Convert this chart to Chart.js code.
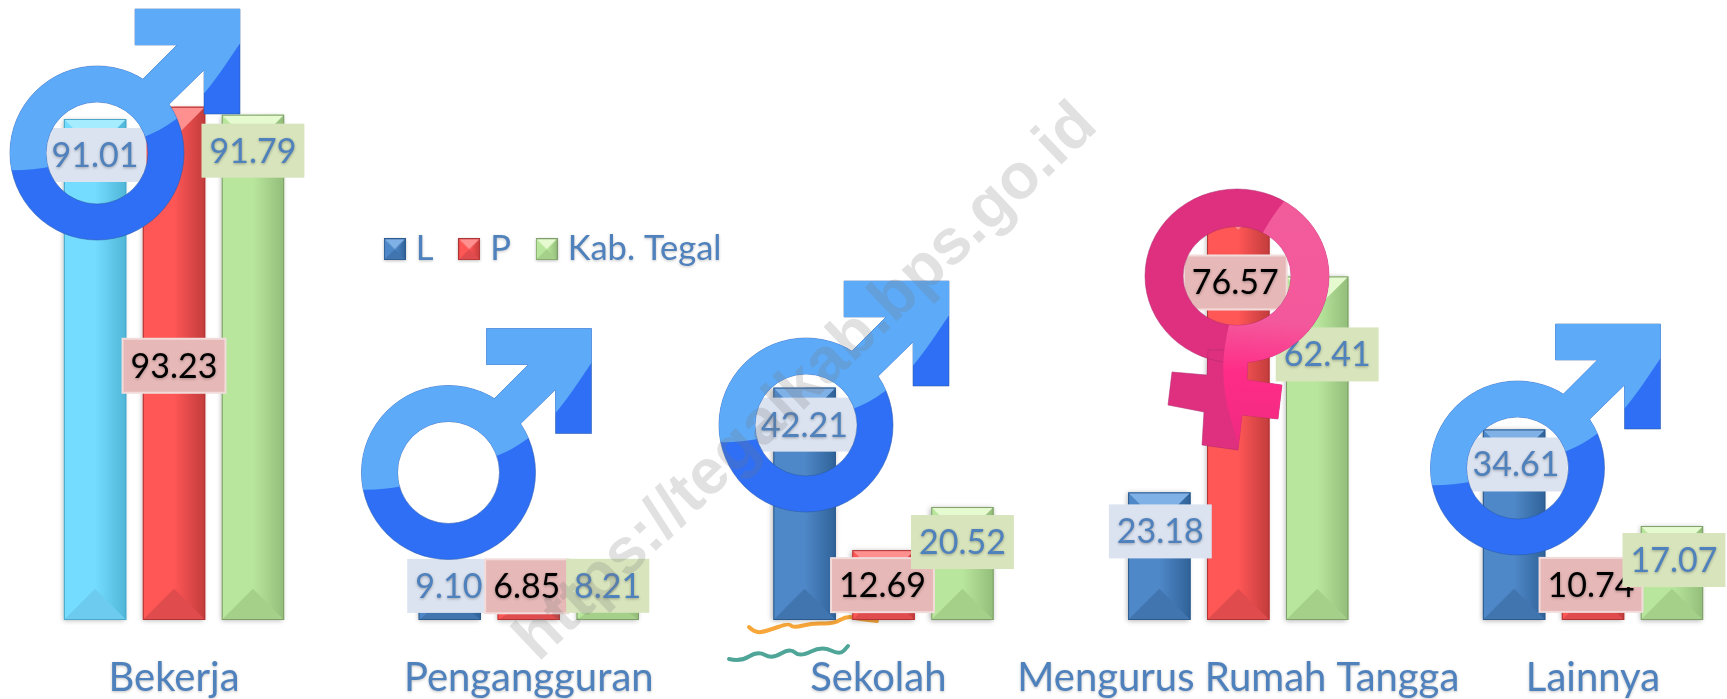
<!DOCTYPE html>
<html>
<head>
<meta charset="utf-8">
<style>
  html, body { margin: 0; padding: 0; background: #fff; overflow: hidden; }
  canvas { display: block; }
</style>
<script src="https://cdn.jsdelivr.net/npm/chart.js@4"></script>
</head>
<body>
<canvas id="chart" width="1727" height="699"></canvas>
<script>
const categories = ['Bekerja', 'Pengangguran', 'Sekolah', 'Mengurus Rumah Tangga', 'Lainnya'];
const seriesNames = ['L', 'P', 'Kab. Tegal'];
const valuesL = [91.01, 9.10, 42.21, 23.18, 34.61];
const valuesP = [93.23, 6.85, 12.69, 76.57, 10.74];
const valuesKab = [91.79, 8.21, 20.52, 62.41, 17.07];

// label box offset from the top centre of its bar
const offsetsL = [[0, 36], [-1, 16], [0, 37], [1, 39], [2, 35]];
const offsetsP = [[0, 259], [-2, 4], [-1, 35], [-3, 84], [-2, 24]];
const offsetsKab = [[0, 36], [0, 11], [0, 35], [10, 78], [2, 34]];

const FONT = 'Lato, "Open Sans", sans-serif';
const TEXT_BLUE = '#4f81bd';

const blueBar = { base: '#4f88c8', dark: '#2f6298', top: '#7fb0e6', bottom: '#4175b0', edge: '#2d5a8c' };
const cyanBar = { base: '#74dcff', dark: '#4fb6d8', top: '#a5ecff', bottom: '#6ccbee', edge: '#4aa8c8' };
const redBar = { base: '#ff5656', dark: '#c23c3c', top: '#ff9090', bottom: '#e04c4e', edge: '#b03434' };
const greenBar = { base: '#b9e69d', dark: '#93bd7a', top: '#e6fad0', bottom: '#a4d08a', edge: '#7f9f6a' };

const barStyles = [
  [cyanBar, blueBar, blueBar, blueBar, blueBar],
  [redBar, redBar, redBar, redBar, redBar],
  [greenBar, greenBar, greenBar, greenBar, greenBar]
];
const labelStyles = [
  { bg: '#dbe3f1', color: TEXT_BLUE, offsets: offsetsL },
  { bg: '#e6b8b7', color: '#000', offsets: offsetsP, border: '#f2dcdb' },
  { bg: '#d7e4bc', color: TEXT_BLUE, offsets: offsetsKab }
];

function smoothLine(ctx, pts) {
  ctx.moveTo(pts[0][0], pts[0][1]);
  for (let i = 1; i < pts.length - 1; i++) {
    const mx = (pts[i][0] + pts[i + 1][0]) / 2;
    const my = (pts[i][1] + pts[i + 1][1]) / 2;
    ctx.quadraticCurveTo(pts[i][0], pts[i][1], mx, my);
  }
  const last = pts[pts.length - 1];
  ctx.lineTo(last[0], last[1]);
}

function polygon(ctx, pts) {
  pts.forEach((p, i) => i ? ctx.lineTo(p[0], p[1]) : ctx.moveTo(p[0], p[1]));
  ctx.closePath();
}

function bevel(ctx, x, y, w, h, s) {
  const inset = Math.min(w / 2, h / 2);
  const cx = x + w / 2;
  ctx.save();
  ctx.shadowColor = 'transparent';
  const g = ctx.createLinearGradient(cx, 0, x + w, 0);
  g.addColorStop(0, s.base);
  g.addColorStop(1, s.dark);
  ctx.fillStyle = g;
  ctx.fillRect(cx, y, w / 2, h);
  ctx.fillStyle = s.top;
  ctx.beginPath();
  polygon(ctx, [[x, y], [x + w, y], [cx, y + inset]]);
  ctx.fill();
  ctx.fillStyle = s.bottom;
  ctx.beginPath();
  polygon(ctx, [[x, y + h], [x + w, y + h], [cx, y + h - inset]]);
  ctx.fill();
  ctx.strokeStyle = s.edge;
  ctx.lineWidth = 1;
  ctx.strokeRect(x + 0.5, y + 0.5, w - 1, h - 1);
  ctx.restore();
}

function makeSwatch(s) {
  const c = document.createElement('canvas');
  c.width = 22;
  c.height = 22;
  const ctx = c.getContext('2d');
  ctx.fillStyle = s.base;
  ctx.fillRect(0, 0, 22, 22);
  bevel(ctx, 0, 0, 22, 22, s);
  return c;
}
const swatches = [makeSwatch(blueBar), makeSwatch(redBar), makeSwatch(greenBar)];

function drawMale(ctx, cx, cy) {
  ctx.save();
  ctx.translate(cx, cy);
  const shape = new Path2D();
  shape.arc(0, 0, 87, 0, Math.PI * 2);
  shape.closePath();
  shape.moveTo(38, -144);
  [[143, -144], [143, -39], [107, -39], [107, -83], [61, -38], [36, -64], [80, -108], [38, -108]]
    .forEach(p => shape.lineTo(p[0], p[1]));
  shape.closePath();
  shape.moveTo(51, 0);
  shape.arc(0, 0, 51, 0, Math.PI * 2, true);
  shape.closePath();
  ctx.fillStyle = '#2e6ff5';
  ctx.fill(shape);
  ctx.strokeStyle = 'rgba(40,90,170,0.55)';
  ctx.lineWidth = 1;
  ctx.stroke(shape);
  ctx.clip(shape);
  ctx.fillStyle = '#5dabf8';
  ctx.beginPath();
  smoothLine(ctx, [[-92, 17], [-51, 19], [50, -16], [78, -32], [108, -58], [150, -120]]);
  ctx.lineTo(150, -160);
  ctx.lineTo(-92, -160);
  ctx.closePath();
  ctx.fill();
  ctx.restore();
}

function drawFemale(ctx) {
  ctx.save();
  const shape = new Path2D();
  shape.ellipse(1237, 276, 92, 87, 0, 0, Math.PI * 2);
  shape.closePath();
  shape.moveTo(1208, 350);
  [[1248, 350], [1247, 380], [1282, 385], [1278, 419], [1242, 415], [1238, 450], [1202, 445], [1204, 412], [1168, 405], [1172, 372], [1207, 375]]
    .forEach(p => shape.lineTo(p[0], p[1]));
  shape.closePath();
  shape.moveTo(1291, 276);
  shape.ellipse(1237, 276, 54, 49.5, 0, 0, Math.PI * 2, true);
  shape.closePath();
  ctx.fillStyle = '#df307f';
  ctx.fill(shape);
  ctx.strokeStyle = 'rgba(170,40,110,0.5)';
  ctx.lineWidth = 1;
  ctx.stroke(shape);
  ctx.clip(shape);
  const g = ctx.createLinearGradient(1260, 200, 1240, 440);
  g.addColorStop(0, '#f25c9b');
  g.addColorStop(0.5, '#f4589c');
  g.addColorStop(0.72, '#ff2c87');
  g.addColorStop(1, '#f02a80');
  ctx.fillStyle = g;
  ctx.beginPath();
  smoothLine(ctx, [[1290, 195], [1262, 224], [1225, 330], [1222, 390], [1240, 450]]);
  ctx.lineTo(1340, 450);
  ctx.lineTo(1340, 180);
  ctx.closePath();
  ctx.fill();
  ctx.restore();
}

function drawSquiggle(ctx, pts, color) {
  ctx.save();
  ctx.shadowColor = 'transparent';
  ctx.strokeStyle = color;
  ctx.lineWidth = 4;
  ctx.lineCap = 'round';
  ctx.lineJoin = 'round';
  ctx.beginPath();
  smoothLine(ctx, pts);
  ctx.stroke();
  ctx.restore();
}

function drawValueLabel(ctx, bar, value, style, offset) {
  const text = value.toFixed(2);
  ctx.save();
  ctx.font = '34px ' + FONT;
  const boxW = ctx.measureText(text).width + 16;
  const boxH = 54;
  const cx = bar.x + offset[0];
  const cy = bar.y + offset[1];
  ctx.fillStyle = style.bg;
  ctx.fillRect(cx - boxW / 2, cy - boxH / 2, boxW, boxH);
  if (style.border) {
    ctx.strokeStyle = style.border;
    ctx.lineWidth = 2;
    ctx.strokeRect(cx - boxW / 2, cy - boxH / 2, boxW, boxH);
  }
  ctx.fillStyle = style.color;
  ctx.textAlign = 'center';
  ctx.textBaseline = 'middle';
  ctx.shadowColor = 'rgba(0,0,0,0.3)';
  ctx.shadowBlur = 3;
  ctx.shadowOffsetY = 1;
  ctx.fillText(text, cx, cy + 1);
  ctx.restore();
}

const decorations = {
  id: 'decorations',
  beforeLayout(chart) {
    // legend floats over the chart, it must not take room from the plot
    const legend = chart.legend;
    if (!legend._floating) {
      const fit = legend.fit;
      legend.fit = function () { fit.call(this); this.height = 0; };
      legend._floating = true;
    }
  },
  afterLayout(chart) {
    const legend = chart.legend;
    legend.left = 359;
    legend.right = 1000;
    legend.width = 641;
    legend.top = 200;
    legend.bottom = 300;
    legend.height = 100;
  },
  beforeDraw(chart) {
    // soft shadow under axis text and legend
    const ctx = chart.ctx;
    ctx.shadowColor = 'rgba(0,0,0,0.25)';
    ctx.shadowBlur = 3;
    ctx.shadowOffsetY = 1;
  },
  beforeDatasetsDraw(chart) {
    const ctx = chart.ctx;
    drawSquiggle(ctx, [[749, 627], [755, 633], [767, 631], [789, 623], [793, 628], [813, 623], [833, 624], [847, 616], [860, 619], [877, 621]], '#f7a63a');
    ctx.shadowColor = 'rgba(0,0,0,0.3)';
    ctx.shadowBlur = 5;
    ctx.shadowOffsetX = -1;
    ctx.shadowOffsetY = 1;
  },
  afterDatasetsDraw(chart) {
    const ctx = chart.ctx;
    ctx.shadowColor = 'transparent';
    ctx.shadowBlur = 0;
    ctx.shadowOffsetX = 0;
    ctx.shadowOffsetY = 0;

    chart.data.datasets.forEach((ds, i) => {
      chart.getDatasetMeta(i).data.forEach((el, j) => {
        bevel(ctx, el.x - el.width / 2, el.y, el.width, el.base - el.y, barStyles[i][j]);
      });
    });
    drawSquiggle(ctx, [[729, 659], [740, 662], [758, 651], [772, 659], [790, 648], [800, 657], [822, 646], [840, 655], [848, 646]], '#4fa597');

    chart.data.datasets.forEach((ds, i) => {
      chart.getDatasetMeta(i).data.forEach((el, j) => {
        drawValueLabel(ctx, el, ds.data[j], labelStyles[i], labelStyles[i].offsets[j]);
      });
    });

    drawMale(ctx, 97, 153);
    drawMale(ctx, 448.5, 472.5);
    drawMale(ctx, 806, 425);
    drawMale(ctx, 1517.5, 468);
    drawFemale(ctx);

    ctx.save();
    ctx.translate(526, 650);
    ctx.rotate(-43.6 * Math.PI / 180);
    ctx.font = 'bold 64px "Liberation Sans", sans-serif';
    ctx.fillStyle = 'rgba(120,120,120,0.22)';
    ctx.textBaseline = 'middle';
    ctx.fillText('https://tegalkab.bps.go.id', 0, 0);
    ctx.restore();
  }
};

new Chart(document.getElementById('chart'), {
  type: 'bar',
  data: {
    labels: categories,
    datasets: [
      { label: seriesNames[0], data: valuesL, backgroundColor: barStyles[0].map(s => s.base), clip: false },
      { label: seriesNames[1], data: valuesP, backgroundColor: barStyles[1].map(s => s.base), clip: false },
      { label: seriesNames[2], data: valuesKab, backgroundColor: barStyles[2].map(s => s.base), clip: false }
    ]
  },
  options: {
    responsive: false,
    animation: false,
    categoryPercentage: 0.6676,
    barPercentage: 0.79,
    layout: { padding: { left: 174, right: 134, top: 69.5, bottom: 0 } },
    plugins: {
      tooltip: { enabled: false },
      legend: {
        position: 'top',
        align: 'start',
        labels: {
          usePointStyle: true,
          pointStyleWidth: 7.5,
          padding: 32,
          font: { family: FONT, size: 34.5 },
          color: TEXT_BLUE,
          generateLabels: () => seriesNames.map((name, i) => ({
            text: name,
            fontColor: TEXT_BLUE,
            pointStyle: swatches[i],
            datasetIndex: i,
            lineWidth: 0,
            strokeStyle: 'transparent',
            fillStyle: 'transparent'
          }))
        }
      }
    },
    scales: {
      y: { display: false, min: 0, max: 100 },
      x: {
        offset: false,
        grid: { display: false },
        border: { display: false },
        afterFit(scale) { scale.height = 79; },
        ticks: {
          autoSkip: false,
          maxRotation: 0,
          minRotation: 0,
          padding: 26,
          color: TEXT_BLUE,
          font: { family: FONT, size: 40 },
          // Sekolah sits a little left of its bars in the original
          callback(value, index) { return categories[index] + (index === 2 ? ' ' : ''); }
        }
      }
    }
  },
  plugins: [decorations]
});
</script>
</body>
</html>
